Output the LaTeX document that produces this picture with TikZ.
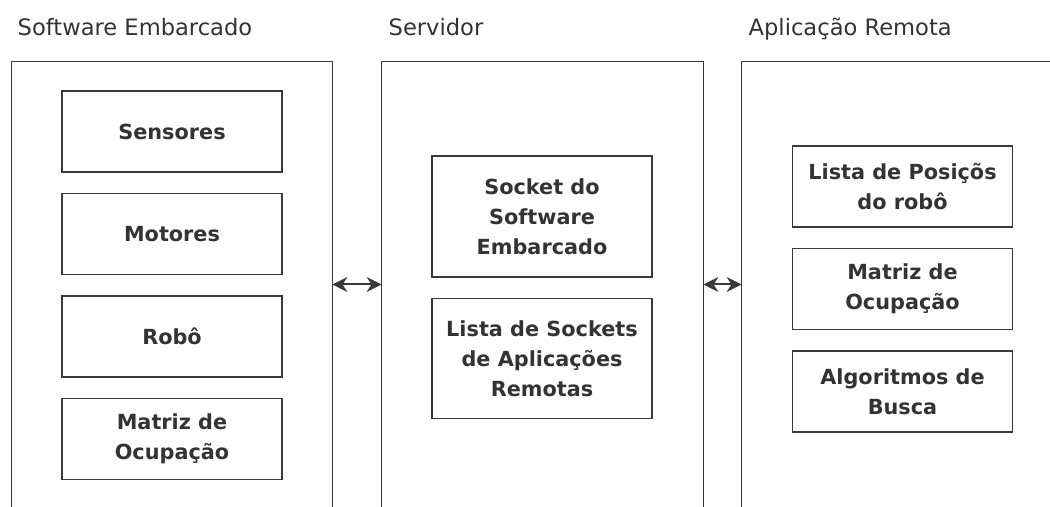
\documentclass[tikz,border=0pt]{standalone}
\usepackage{fontspec}
\setmainfont{DejaVu Sans}
\usetikzlibrary{positioning,calc,arrows.meta}

\definecolor{linegray}{HTML}{3A3A3A}
\definecolor{textgray}{HTML}{333333}

\begin{document}
\begin{tikzpicture}[x=0.5pt,y=-0.5pt,>={Stealth[length=7.5pt,width=7.5pt]},node distance=10pt,
    frame/.style={minimum height=222.5pt,inner sep=0pt},
    block/.style={draw=linegray,line width=0.75pt,minimum width=110pt,minimum height=40.5pt,
                  align=center,text=textgray,font=\bfseries\fontsize{10.4}{15}\selectfont},
    title/.style={anchor=base west,text=textgray,font=\fontsize{11.3}{13}\selectfont}]
    \useasboundingbox (0,0) rectangle (1050,507);

    % the three columns
    \node[frame, minimum width=160pt] (emb) at (172,284.5) {};
    \node[frame, minimum width=160.5pt] (srv) at (542.5,284.5) {};
    \node[frame, minimum width=154pt] (app) at (896,284.5) {};

    \draw[linegray, line width=0.85pt] (emb.south west) |- (emb.north east) -- (emb.south east);
    \draw[linegray, line width=0.85pt] (srv.south west) |- (srv.north east) -- (srv.south east);
    \draw[linegray, line width=0.85pt] (app.south west) |- (app.north east);

    \node[title] (embt) at ($(emb.north west)+(-1,-26)$) {Software Embarcado};
    \node[title] (srvt) at ($(srv.north west)+(0,-26)$) {Servidor};
    \node[title] (appt) at ($(app.north west)+(0,-26)$) {Aplicação Remota};

    % software embarcado
    \node[block] (sens) at (172,131.5) {Sensores};
    \node[block] (mot)  [below=of sens] {Motores};
    \node[block] (robo) [below=of mot]  {Robô};
    \node[block] (mat)  [below=of robo] {Matriz de\\Ocupação};

    % servidor
    \node[block, minimum height=60.5pt] (sock) at (542,216.5) {Socket do\\Software\\Embarcado};
    \node[block, minimum height=60pt]   (lsock) [below=of sock] {Lista de Sockets\\de Aplicações\\Remotas};

    % aplicacao remota
    \node[block] (pos)  at (902.5,186.5) {Lista de Posiçõs\\do robô};
    \node[block] (mapp) [below=of pos]  {Matriz de\\Ocupação};
    \node[block] (alg)  [below=of mapp] {Algoritmos de\\Busca};

    \draw[<->, linegray, line width=1pt] (emb.east) -- (srv.west);
    \draw[<->, linegray, line width=1pt] (srv.east) -- (app.west);
\end{tikzpicture}
\end{document}
